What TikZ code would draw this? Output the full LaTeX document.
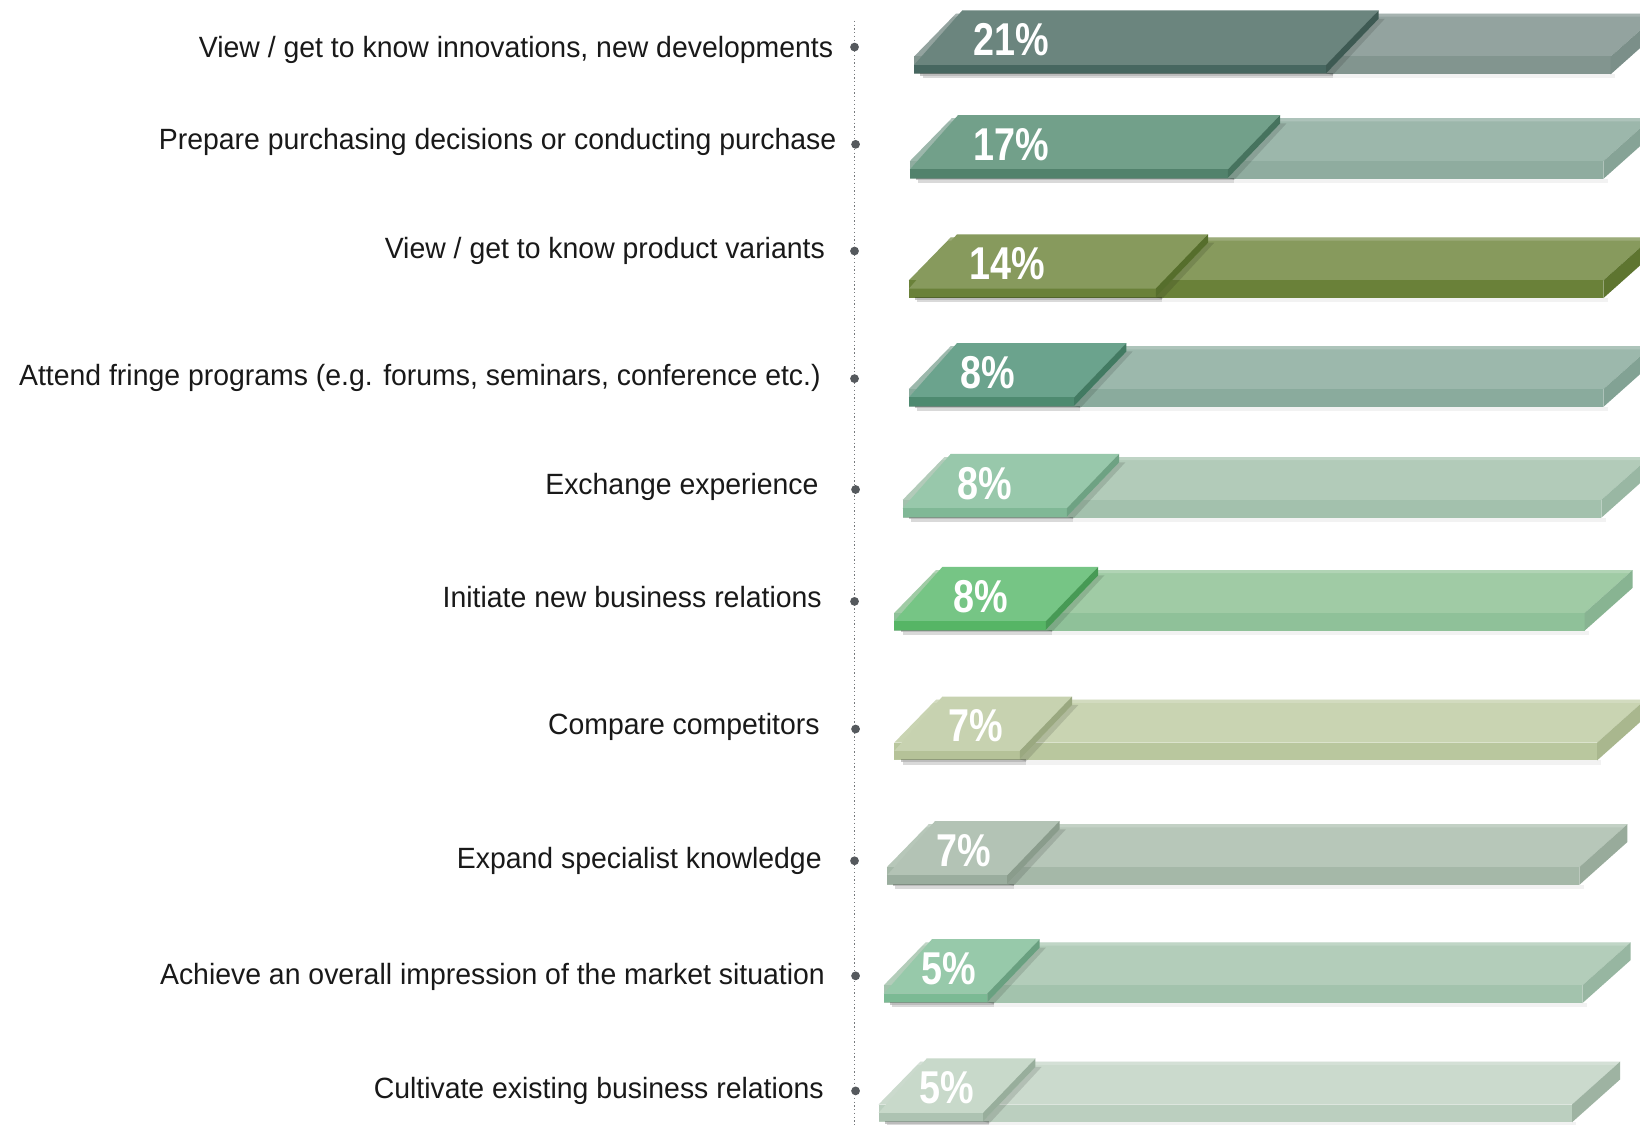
\documentclass[tikz,border=0pt]{standalone}
\usepackage{fontspec}
\setmainfont{Liberation Sans}[FakeStretch=0.97]
\newfontfamily\pctfont{Liberation Sans}[FakeStretch=0.82]
\definecolor{c1top}{HTML}{6B857E}\definecolor{c1front}{HTML}{476760}\definecolor{c1side}{HTML}{3E5A53}
\definecolor{l1top}{HTML}{93A39F}\definecolor{l1front}{HTML}{82958F}\definecolor{l1side}{HTML}{7B8F89}
\definecolor{c2top}{HTML}{72A08A}\definecolor{c2front}{HTML}{52826C}\definecolor{c2side}{HTML}{46735E}
\definecolor{l2top}{HTML}{9CB7AB}\definecolor{l2front}{HTML}{8FAC9F}\definecolor{l2side}{HTML}{86A396}
\definecolor{c3top}{HTML}{879A5D}\definecolor{c3front}{HTML}{6A8139}\definecolor{c3side}{HTML}{566E2C}
\definecolor{l3top}{HTML}{879A5D}\definecolor{l3front}{HTML}{6A8139}\definecolor{l3side}{HTML}{5E7530}
\definecolor{c4top}{HTML}{6BA38D}\definecolor{c4front}{HTML}{4E8A70}\definecolor{c4side}{HTML}{427A62}
\definecolor{l4top}{HTML}{9CB8AC}\definecolor{l4front}{HTML}{8AAB9D}\definecolor{l4side}{HTML}{82A294}
\definecolor{c5top}{HTML}{98C8AB}\definecolor{c5front}{HTML}{80B896}\definecolor{c5side}{HTML}{6EA283}
\definecolor{l5top}{HTML}{B2CBB9}\definecolor{l5front}{HTML}{A3C1AD}\definecolor{l5side}{HTML}{99B7A3}
\definecolor{c6top}{HTML}{76C585}\definecolor{c6front}{HTML}{56B565}\definecolor{c6side}{HTML}{479A55}
\definecolor{l6top}{HTML}{A0CBA5}\definecolor{l6front}{HTML}{8FC199}\definecolor{l6side}{HTML}{88B492}
\definecolor{c7top}{HTML}{C7D2B0}\definecolor{c7front}{HTML}{B5C298}\definecolor{c7side}{HTML}{9AA880}
\definecolor{l7top}{HTML}{C9D4B2}\definecolor{l7front}{HTML}{B9C79E}\definecolor{l7side}{HTML}{A9B78E}
\definecolor{c8top}{HTML}{B3C3B5}\definecolor{c8front}{HTML}{9AAD9E}\definecolor{c8side}{HTML}{8A9C8C}
\definecolor{l8top}{HTML}{B7C7B9}\definecolor{l8front}{HTML}{A5B8A8}\definecolor{l8side}{HTML}{98AB9B}
\definecolor{c9top}{HTML}{97C9AA}\definecolor{c9front}{HTML}{7BBA94}\definecolor{c9side}{HTML}{69A080}
\definecolor{l9top}{HTML}{B3CDBA}\definecolor{l9front}{HTML}{A3C3AD}\definecolor{l9side}{HTML}{97B6A1}
\definecolor{c10top}{HTML}{C8D9CA}\definecolor{c10front}{HTML}{ADC3B2}\definecolor{c10side}{HTML}{98AE9C}
\definecolor{l10top}{HTML}{CBDACD}\definecolor{l10front}{HTML}{BBCFBF}\definecolor{l10side}{HTML}{9EB3A2}
\definecolor{dotgray}{HTML}{55595D}
\newcommand\chartbar[7]{%
  % remaining (light) bar
  \fill[black,opacity=.05] (#3+8,#2+61) rectangle (#5+4,#2+65);
  \fill[l#1top] (#3+40,#2+3) -- (#5+46,#2+3) -- (#5,#2+44) -- (#3,#2+44) -- cycle;
  \fill[white,opacity=.18] (#3+40,#2+3) -- (#5+46,#2+3) -- (#5+43,#2+6) -- (#3+37,#2+6) -- cycle;
  \fill[l#1front] (#3,#2+44) rectangle (#5,#2+61);
  \fill[l#1side] (#5,#2+44) -- (#5+46,#2+3) -- (#5+46,#2+20) -- (#5,#2+61) -- cycle;
  % value block
  \fill[black,opacity=.22] (#3+6,#2+60) rectangle (#4+6,#2+62.5);
  \fill[black,opacity=.10] (#3+8,#2+62.5) rectangle (#4+6,#2+65);
  \fill[black,opacity=.12] (#4,#2+60) -- (#4+50,#2+8) -- (#4+56,#2+8) -- (#4+6,#2+62) -- cycle;
  \fill[c#1top] (#3,#2+52) -- (#3+46,#2) -- (#4+50,#2) -- (#4,#2+52) -- cycle;
  \fill[c#1front] (#3,#2+52) rectangle (#4,#2+60);
  \fill[c#1side] (#4,#2+52) -- (#4+50,#2) -- (#4+50,#2+8) -- (#4,#2+60) -- cycle;
  \node[pct] (p#1) at (#7,#2+28) {#6};
}
\begin{document}
\begin{tikzpicture}[x=0.5pt,y=-0.5pt,
  pct/.style={anchor=west, inner sep=0pt, text=white,
    font=\pctfont\bfseries\fontsize{22}{24}\selectfont},
  lab/.style={anchor=base east, inner sep=0pt, text=black!90,
    font=\fontsize{14}{16}\selectfont},
  bullet/.style={circle, fill=dotgray, inner sep=0pt, minimum size=4.2pt}]
\useasboundingbox (0,0) rectangle (1568,1075);
\clip (0,0) rectangle (1568,1075);
\fill[white] (0,0) rectangle (1568,1075);
% axis
\coordinate (axtop) at (817,20);
\coordinate (axbot) at (817,1075);
\draw[dotgray!80, line width=0.5pt, dash pattern=on 0.6pt off 1.2pt] (axtop) -- (axbot);
% bullets
\node[bullet] (d1) at (817,45) {};
\node[bullet] (d2) at (818,138) {};
\node[bullet] (d3) at (817,240) {};
\node[bullet] (d4) at (817,362) {};
\node[bullet] (d5) at (818,468) {};
\node[bullet] (d6) at (817,575) {};
\node[bullet] (d7) at (818,697) {};
\node[bullet] (d8) at (817,823) {};
\node[bullet] (d9) at (818,933) {};
\node[bullet] (d10) at (818,1043) {};
% labels
\node[lab] (t1) at (797,55) {View / get to know innovations, new developments};
\node[lab] (t2) at (800,143) {Prepare purchasing decisions or conducting purchase};
\node[lab] (t3) at (789,247) {View / get to know product variants};
\node[lab] (t4) at (785,369) {Attend fringe programs (e.g. forums, seminars, conference etc.)};
\node[lab] (t5) at (783,473) {Exchange experience};
\node[lab] (t6) at (786,581) {Initiate new business relations};
\node[lab] (t7) at (784,702) {Compare competitors};
\node[lab] (t8) at (786,830) {Expand specialist knowledge};
\node[lab] (t9) at (789,941) {Achieve an overall impression of the market situation};
\node[lab] (t10) at (788,1050) {Cultivate existing business relations};
% bars: index, top, xL, x value end, x light end, text, text x
\chartbar{1}{10}{874}{1268}{1540}{21\%}{930}
\chartbar{2}{110}{870}{1174}{1533}{17\%}{930}
\chartbar{3}{224}{869}{1105}{1533}{14\%}{927}
\chartbar{4}{328}{869}{1027}{1533}{8\%}{918}
\chartbar{5}{434}{863}{1020}{1531}{8\%}{915}
\chartbar{6}{542}{855}{1000}{1515}{8\%}{911}
\chartbar{7}{666}{855}{975}{1527}{7\%}{906}
\chartbar{8}{785}{848}{963}{1510}{7\%}{895}
\chartbar{9}{898}{845}{944}{1513}{5\%}{881}
\chartbar{10}{1012}{840}{940}{1503}{5\%}{879}
\end{tikzpicture}
\end{document}
